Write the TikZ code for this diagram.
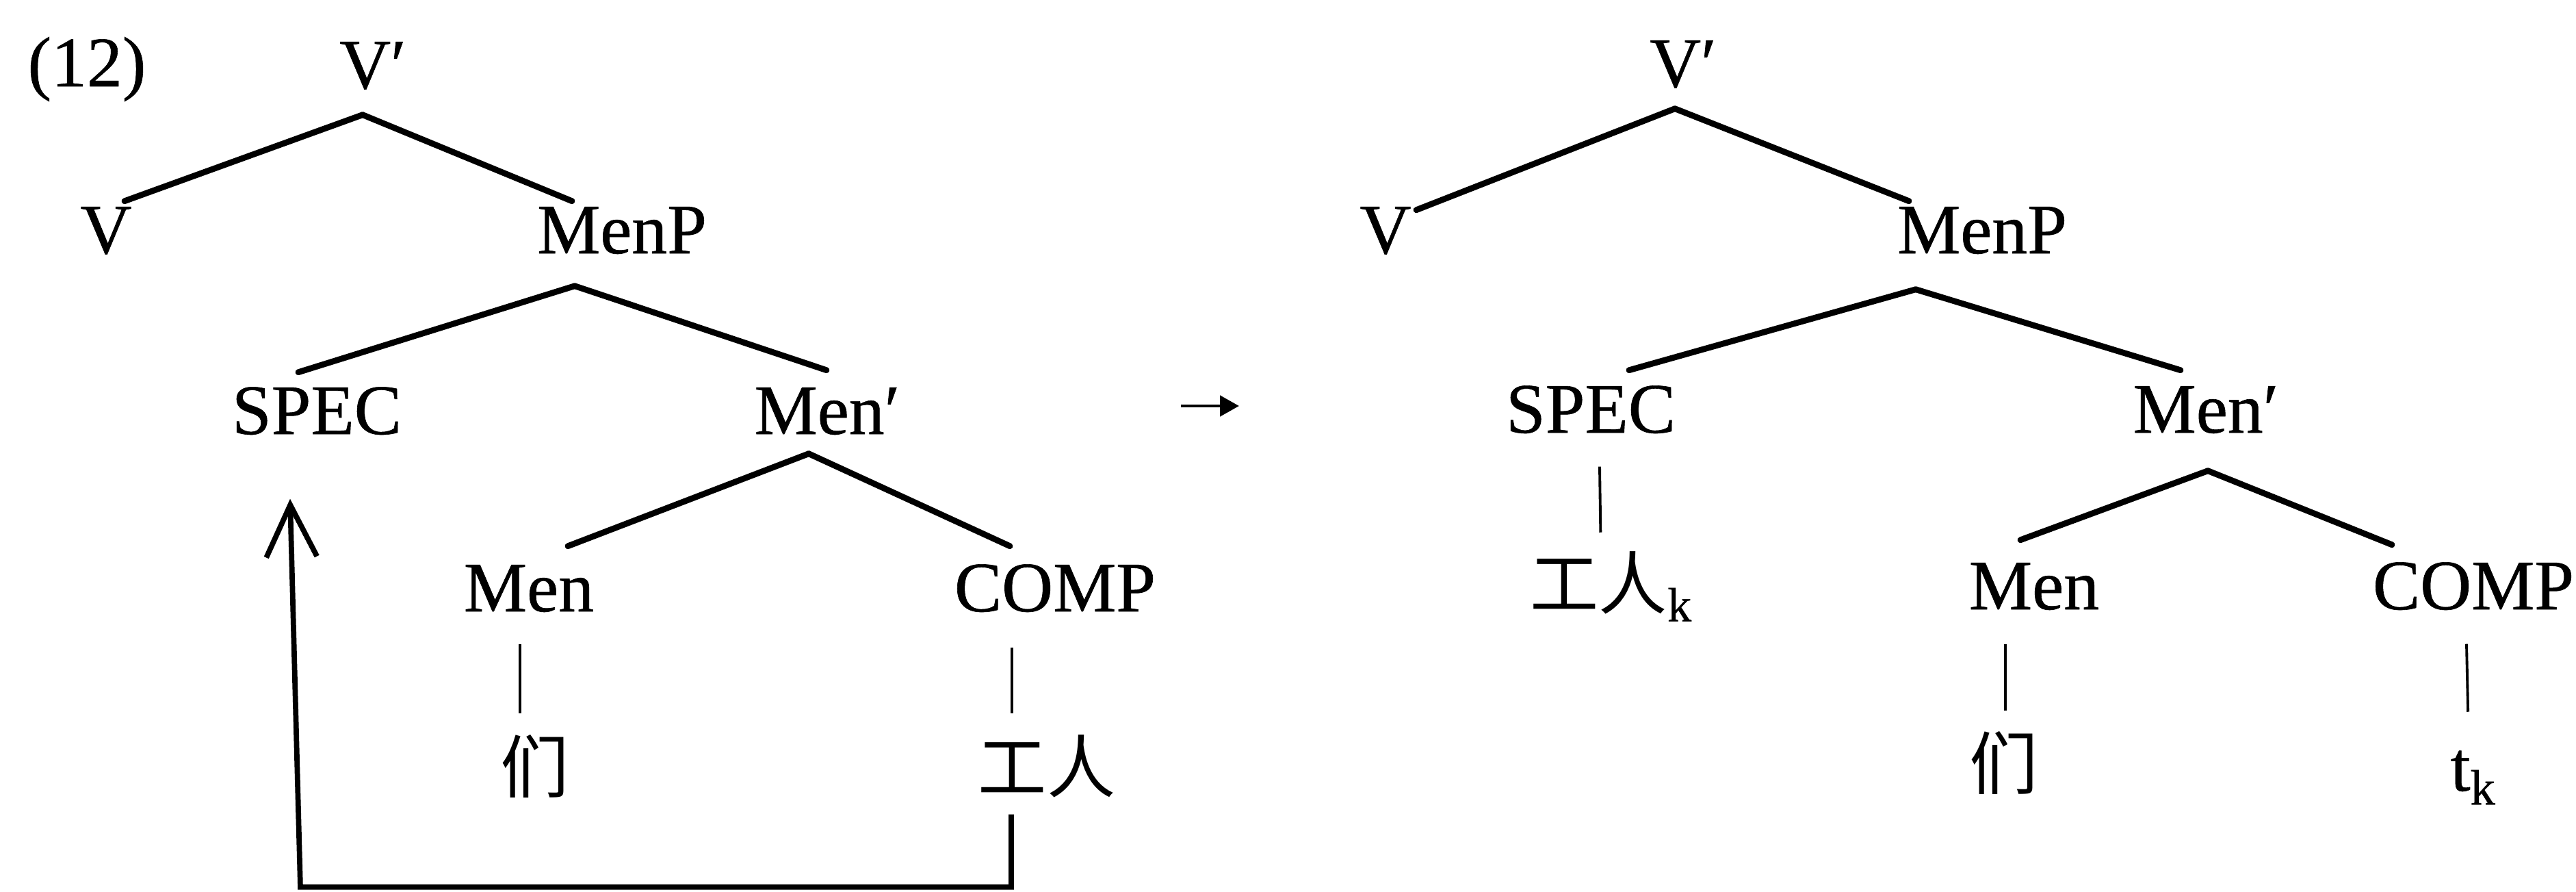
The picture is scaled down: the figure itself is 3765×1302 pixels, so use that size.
\documentclass[tikz,border=0pt]{standalone}
\usepackage{fontspec}
\setmainfont{Liberation Serif}[FakeBold=0.6]
\newfontfamily\cjk{Noto Sans CJK SC}
\usepackage{tikz}
\usetikzlibrary{arrows.meta,calc}

\begin{document}
\begin{tikzpicture}[x=0.01cm,y=-0.01cm,
    lab/.style={inner sep=0pt,anchor=base,text height=19.5pt,text depth=0pt,font=\fontsize{29.5}{35}\selectfont},
    cjk/.style={lab,font=\fontsize{28.5}{34}\selectfont\cjk},
    branch/.style={line width=2.5pt,line cap=round},
    stem/.style={line width=1.1pt}]
  \useasboundingbox (0,0) rectangle (3765,1302);
  % left tree
  \node[lab] (exno) at (127,126) {(12)};
  \node[lab] (vbarL) at (545,129) {V′};
  \node[lab] (vL) at (155,370) {V};
  \node[lab] (menpL) at (909,370) {MenP};
  \node[lab] (specL) at (463,634) {SPEC};
  \node[lab] (menbarL) at (1209,634) {Men′};
  \node[lab] (menL) at (773,893) {Men};
  \node[lab] (compL) at (1542,893) {COMP};
  \node[cjk] (menwL) at (782,1157) {们};
  \node[cjk] (gongL) at (1530,1157) {工人};
  \draw[branch] ($(vbarL.south)+(-15,38)$) -- ($(vL.north)+(27,-7)$);
  \draw[branch] ($(vbarL.south)+(-15,38)$) -- ($(menpL.north)+(-73,-7)$);
  \draw[branch] ($(menpL.south)+(-69,47)$) -- ($(specL.north)+(-27,-21)$);
  \draw[branch] ($(menpL.south)+(-69,47)$) -- ($(menbarL.north)+(-1,-24)$);
  \draw[branch] ($(menbarL.south)+(-27,28)$) -- ($(compL.north)+(-66,-26)$);
  \draw[branch] ($(menbarL.south)+(-27,28)$) -- ($(menL.north)+(57,-26)$);
  \draw[stem] ($(menL.south)+(-13,47)$) -- ($(menwL.north)+(-22,-46)$);
  \draw[stem] ($(compL.south)+(-63,52)$) -- ($(gongL.north)+(-51,-46)$);
  % movement
  \draw[line width=2.2pt,-{Straight Barb[length=0.76cm,width=0.74cm,line width=2.2pt]}]
    ($(gongL.south)+(-52,32)$) |- ($(specL.south)+(-24,661)$) -- ($(specL.south)+(-39,94)$);
  \draw[line width=1.4pt,-{Triangle[length=0.28cm,width=0.3cm]}] (1726,593) -- (1811,593);
  % right tree
  \node[lab] (vbarR) at (2460,127) {V′};
  \node[lab] (vR) at (2025,370) {V};
  \node[lab] (menpR) at (2897,370) {MenP};
  \node[lab] (specR) at (2325,632) {SPEC};
  \node[lab] (menbarR) at (3224,632) {Men′};
  \node[cjk,anchor=base west] (gongR) at (2236,889) {工人{\rmfamily\textsubscript{k}}};
  \node[lab] (menR) at (2973,890) {Men};
  \node[lab] (compR) at (3615,890) {COMP};
  \node[cjk] (menwR) at (2929,1152) {们};
  \node[lab,anchor=base west] (tR) at (3581,1155) {t\textsubscript{k}};
  \draw[branch] ($(vbarR.south)+(-12,31)$) -- ($(vR.north)+(45,6)$);
  \draw[branch] ($(vbarR.south)+(-12,31)$) -- ($(menpR.north)+(-107,-7)$);
  \draw[branch] ($(menpR.south)+(-97,52)$) -- ($(specR.north)+(56,-22)$);
  \draw[branch] ($(menpR.south)+(-97,52)$) -- ($(menbarR.north)+(-37,-22)$);
  \draw[branch] ($(menbarR.south)+(3,55)$) -- ($(menR.north)+(-20,-32)$);
  \draw[branch] ($(menbarR.south)+(3,55)$) -- ($(compR.north)+(-119,-25)$);
  \draw[stem] ($(specR.south)+(13,49)$) -- ($(gongR.north)+(-16,-42)$);
  \draw[stem] ($(menR.south)+(-42,50)$) -- ($(menwR.north)+(2,-45)$);
  \draw[stem] ($(compR.south)+(-10,50)$) -- ($(tR.north)+(-8,-46)$);
\end{tikzpicture}
\end{document}
